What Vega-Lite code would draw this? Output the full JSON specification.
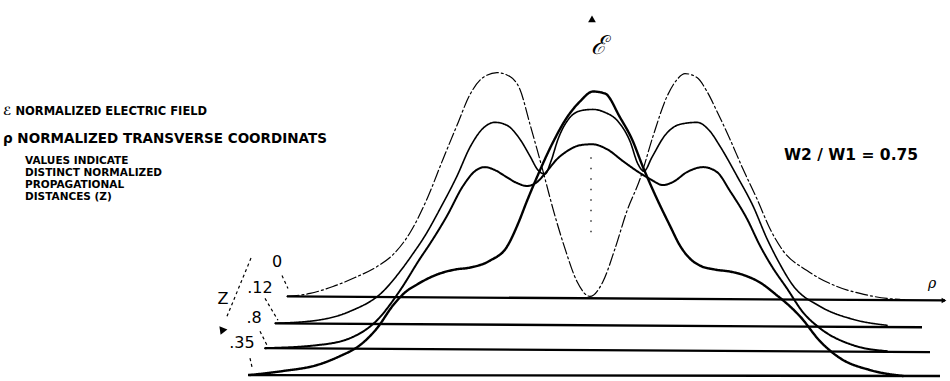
{
  "$schema": "https://vega.github.io/schema/vega-lite/v6.json",
  "width": 950,
  "height": 381,
  "autosize": {"type": "fit", "contains": "padding"},
  "padding": 0,
  "background": "white",
  "config": {"view": {"stroke": null}},
  "datasets": {
    "curves": [
      {"z": "0", "rho": -305, "e": 83}, {"z": "0", "rho": -282, "e": 86}, {"z": "0", "rho": -259, "e": 93},
      {"z": "0", "rho": -237, "e": 102}, {"z": "0", "rho": -215, "e": 113}, {"z": "0", "rho": -199, "e": 125},
      {"z": "0", "rho": -182, "e": 147}, {"z": "0", "rho": -165, "e": 181}, {"z": "0", "rho": -149, "e": 221},
      {"z": "0", "rho": -135, "e": 255}, {"z": "0", "rho": -122, "e": 286}, {"z": "0", "rho": -109, "e": 303},
      {"z": "0", "rho": -95, "e": 308}, {"z": "0", "rho": -82, "e": 304}, {"z": "0", "rho": -72, "e": 291},
      {"z": "0", "rho": -62, "e": 256}, {"z": "0", "rho": -55, "e": 231}, {"z": "0", "rho": -49, "e": 209},
      {"z": "0", "rho": -39, "e": 171}, {"z": "0", "rho": -27, "e": 131}, {"z": "0", "rho": -15, "e": 98},
      {"z": "0", "rho": -2, "e": 83}, {"z": "0", "rho": 11, "e": 98}, {"z": "0", "rho": 23, "e": 131},
      {"z": "0", "rho": 35, "e": 169}, {"z": "0", "rho": 48, "e": 201}, {"z": "0", "rho": 61, "e": 244},
      {"z": "0", "rho": 75, "e": 284}, {"z": "0", "rho": 85, "e": 301}, {"z": "0", "rho": 93, "e": 307},
      {"z": "0", "rho": 105, "e": 303}, {"z": "0", "rho": 115, "e": 289}, {"z": "0", "rho": 125, "e": 269},
      {"z": "0", "rho": 138, "e": 241}, {"z": "0", "rho": 151, "e": 211}, {"z": "0", "rho": 165, "e": 181},
      {"z": "0", "rho": 178, "e": 151}, {"z": "0", "rho": 191, "e": 129}, {"z": "0", "rho": 215, "e": 109},
      {"z": "0", "rho": 245, "e": 93}, {"z": "0", "rho": 268, "e": 86}, {"z": "0", "rho": 295, "e": 81},
      {"z": "0", "rho": 308, "e": 80},

      {"z": ".12", "rho": -317, "e": 56}, {"z": ".12", "rho": -275, "e": 59}, {"z": ".12", "rho": -242, "e": 68},
      {"z": ".12", "rho": -209, "e": 88}, {"z": ".12", "rho": -192, "e": 108}, {"z": ".12", "rho": -179, "e": 126},
      {"z": ".12", "rho": -167, "e": 144}, {"z": ".12", "rho": -152, "e": 171}, {"z": ".12", "rho": -135, "e": 204},
      {"z": ".12", "rho": -122, "e": 233}, {"z": ".12", "rho": -109, "e": 252}, {"z": ".12", "rho": -97, "e": 258},
      {"z": ".12", "rho": -85, "e": 255}, {"z": ".12", "rho": -72, "e": 241}, {"z": ".12", "rho": -62, "e": 224},
      {"z": ".12", "rho": -54, "e": 210}, {"z": ".12", "rho": -47, "e": 206}, {"z": ".12", "rho": -41, "e": 219},
      {"z": ".12", "rho": -34, "e": 241}, {"z": ".12", "rho": -22, "e": 263}, {"z": ".12", "rho": -10, "e": 270},
      {"z": ".12", "rho": 1, "e": 271}, {"z": ".12", "rho": 13, "e": 268}, {"z": ".12", "rho": 26, "e": 259},
      {"z": ".12", "rho": 38, "e": 239}, {"z": ".12", "rho": 46, "e": 216}, {"z": ".12", "rho": 52, "e": 209},
      {"z": ".12", "rho": 60, "e": 223}, {"z": ".12", "rho": 73, "e": 245}, {"z": ".12", "rho": 88, "e": 256},
      {"z": ".12", "rho": 105, "e": 258}, {"z": ".12", "rho": 118, "e": 249}, {"z": ".12", "rho": 128, "e": 234},
      {"z": ".12", "rho": 145, "e": 204}, {"z": ".12", "rho": 161, "e": 174}, {"z": ".12", "rho": 175, "e": 141},
      {"z": ".12", "rho": 186, "e": 119}, {"z": ".12", "rho": 201, "e": 94}, {"z": ".12", "rho": 228, "e": 73},
      {"z": ".12", "rho": 261, "e": 60}, {"z": ".12", "rho": 295, "e": 54},

      {"z": ".8", "rho": -327, "e": 31}, {"z": ".8", "rho": -275, "e": 34}, {"z": ".8", "rho": -242, "e": 41},
      {"z": ".8", "rho": -215, "e": 59}, {"z": ".8", "rho": -192, "e": 89}, {"z": ".8", "rho": -172, "e": 121},
      {"z": ".8", "rho": -162, "e": 136}, {"z": ".8", "rho": -145, "e": 164}, {"z": ".8", "rho": -129, "e": 194},
      {"z": ".8", "rho": -117, "e": 209}, {"z": ".8", "rho": -107, "e": 213}, {"z": ".8", "rho": -97, "e": 210},
      {"z": ".8", "rho": -87, "e": 204}, {"z": ".8", "rho": -75, "e": 197}, {"z": ".8", "rho": -65, "e": 194},
      {"z": ".8", "rho": -55, "e": 198}, {"z": ".8", "rho": -45, "e": 209}, {"z": ".8", "rho": -35, "e": 221},
      {"z": ".8", "rho": -25, "e": 229}, {"z": ".8", "rho": -12, "e": 235}, {"z": ".8", "rho": 0, "e": 236},
      {"z": ".8", "rho": 15, "e": 231}, {"z": ".8", "rho": 31, "e": 219}, {"z": ".8", "rho": 45, "e": 209},
      {"z": ".8", "rho": 58, "e": 201}, {"z": ".8", "rho": 71, "e": 195}, {"z": ".8", "rho": 81, "e": 198},
      {"z": ".8", "rho": 95, "e": 208}, {"z": ".8", "rho": 111, "e": 213}, {"z": ".8", "rho": 125, "e": 208},
      {"z": ".8", "rho": 138, "e": 189}, {"z": ".8", "rho": 155, "e": 161}, {"z": ".8", "rho": 168, "e": 134},
      {"z": ".8", "rho": 180, "e": 113}, {"z": ".8", "rho": 195, "e": 91}, {"z": ".8", "rho": 211, "e": 67},
      {"z": ".8", "rho": 228, "e": 51}, {"z": ".8", "rho": 261, "e": 34}, {"z": ".8", "rho": 295, "e": 28},

      {"z": ".35", "rho": -342, "e": 4}, {"z": ".35", "rho": -309, "e": 8}, {"z": ".35", "rho": -275, "e": 14},
      {"z": ".35", "rho": -252, "e": 23}, {"z": ".35", "rho": -232, "e": 34}, {"z": ".35", "rho": -215, "e": 51},
      {"z": ".35", "rho": -199, "e": 74}, {"z": ".35", "rho": -187, "e": 87}, {"z": ".35", "rho": -175, "e": 95},
      {"z": ".35", "rho": -155, "e": 105}, {"z": ".35", "rho": -137, "e": 110}, {"z": ".35", "rho": -122, "e": 112},
      {"z": ".35", "rho": -102, "e": 119}, {"z": ".35", "rho": -85, "e": 133}, {"z": ".35", "rho": -74, "e": 156},
      {"z": ".35", "rho": -65, "e": 179}, {"z": ".35", "rho": -55, "e": 203}, {"z": ".35", "rho": -39, "e": 238},
      {"z": ".35", "rho": -25, "e": 263}, {"z": ".35", "rho": -12, "e": 279}, {"z": ".35", "rho": 1, "e": 289},
      {"z": ".35", "rho": 13, "e": 287}, {"z": ".35", "rho": 28, "e": 263}, {"z": ".35", "rho": 40, "e": 241},
      {"z": ".35", "rho": 51, "e": 213}, {"z": ".35", "rho": 65, "e": 181}, {"z": ".35", "rho": 78, "e": 154},
      {"z": ".35", "rho": 88, "e": 134}, {"z": ".35", "rho": 98, "e": 121}, {"z": ".35", "rho": 108, "e": 114},
      {"z": ".35", "rho": 123, "e": 110}, {"z": ".35", "rho": 138, "e": 108}, {"z": ".35", "rho": 153, "e": 104},
      {"z": ".35", "rho": 168, "e": 97}, {"z": ".35", "rho": 185, "e": 84}, {"z": ".35", "rho": 198, "e": 73},
      {"z": ".35", "rho": 208, "e": 63}, {"z": ".35", "rho": 228, "e": 38}, {"z": ".35", "rho": 248, "e": 21},
      {"z": ".35", "rho": 278, "e": 9}, {"z": ".35", "rho": 311, "e": 3}
    ],
    "baselines": [
      {"z": "0", "rho": -305, "e": 83}, {"z": "0", "rho": 353, "e": 79},
      {"z": ".12", "rho": -317, "e": 56}, {"z": ".12", "rho": 330, "e": 52},
      {"z": ".8", "rho": -327, "e": 31}, {"z": ".8", "rho": 338, "e": 27},
      {"z": ".35", "rho": -344, "e": 4}, {"z": ".35", "rho": 348, "e": 3}
    ],
    "leaders": [
      {"k": "zaxis", "rho": -340, "e": 124}, {"k": "zaxis", "rho": -365, "e": 63},
      {"k": "l0", "rho": -310, "e": 104}, {"k": "l0", "rho": -304, "e": 91},
      {"k": "l12", "rho": -327, "e": 81}, {"k": "l12", "rho": -314, "e": 59},
      {"k": "l8", "rho": -332, "e": 48}, {"k": "l8", "rho": -325, "e": 34},
      {"k": "l35", "rho": -342, "e": 21}, {"k": "l35", "rho": -340, "e": 12}
    ],
    "zlabels": [
      {"t": "0", "rho": -315, "e": 118},
      {"t": ".12", "rho": -332, "e": 91},
      {"t": ".8", "rho": -338, "e": 61},
      {"t": ".35", "rho": -350, "e": 36},
      {"t": "Z", "rho": -369, "e": 80}
    ],
    "notes": [
      {"t": "VALUES INDICATE", "rho": -567, "e": 219},
      {"t": "DISTINCT NORMALIZED", "rho": -567, "e": 207},
      {"t": "PROPAGATIONAL", "rho": -567, "e": 195},
      {"t": "DISTANCES (Z)", "rho": -567, "e": 183}
    ]
  },
  "encoding": {
    "x": {"field": "rho", "type": "quantitative", "scale": {"domain": [-592, 358], "nice": false, "zero": false}, "axis": null},
    "y": {"field": "e", "type": "quantitative", "scale": {"domain": [0, 381], "nice": false, "zero": false}, "axis": null}
  },
  "layer": [
    {
      "data": {"name": "baselines"},
      "mark": {"type": "line", "color": "black", "strokeWidth": 2.3},
      "encoding": {"detail": {"field": "z"}}
    },
    {
      "data": {"name": "curves"},
      "mark": {"type": "line", "color": "black", "interpolate": "monotone", "strokeCap": "round"},
      "encoding": {
        "detail": {"field": "z"},
        "strokeWidth": {"field": "z", "type": "nominal", "scale": {"domain": ["0", ".12", ".8", ".35"], "range": [1.2, 2.4, 2.6, 3.3]}, "legend": null},
        "strokeDash": {"field": "z", "type": "nominal", "scale": {"domain": ["0", ".12", ".8", ".35"], "range": [[12, 3, 2, 3], [1, 0], [1, 0], [1, 0]]}, "legend": null}
      }
    },
    {
      "data": {"name": "leaders"},
      "mark": {"type": "line", "color": "black", "strokeWidth": 1.2, "strokeDash": [3, 3]},
      "encoding": {"detail": {"field": "k"}}
    },
    {
      "data": {"values": [{"k": "eaxis", "rho": -1, "e": 223}, {"k": "eaxis", "rho": -1, "e": 144}]},
      "mark": {"type": "line", "color": "black", "strokeWidth": 1.2, "strokeDash": [1.5, 9]},
      "encoding": {"detail": {"field": "k"}}
    },
    {
      "data": {"values": [
        {"k": "e-arrow", "rho": 0, "e": 362, "a": 0, "s": 60},
        {"k": "z-arrow", "rho": -370, "e": 48, "a": 202, "s": 75},
        {"k": "rho-arrow", "rho": 352, "e": 79, "a": 90, "s": 30}
      ]},
      "mark": {"type": "point", "shape": "triangle-up", "filled": true, "color": "black", "opacity": 1},
      "encoding": {
        "angle": {"field": "a", "type": "quantitative", "scale": null},
        "size": {"field": "s", "type": "quantitative", "scale": null, "legend": null}
      }
    },
    {
      "data": {"name": "zlabels"},
      "mark": {"type": "text", "font": "DejaVu Sans", "fontSize": 16, "align": "center", "baseline": "middle", "color": "black"},
      "encoding": {"text": {"field": "t"}}
    },
    {
      "data": {"values": [
        {"t": "ℰ", "rho": 7, "e": 335, "s": 26},
        {"t": "ρ", "rho": 340, "e": 96, "s": 14}
      ]},
      "mark": {"type": "text", "font": "DejaVu Serif", "fontStyle": "italic", "align": "center", "baseline": "middle", "color": "black"},
      "encoding": {
        "text": {"field": "t"},
        "size": {"field": "s", "type": "quantitative", "scale": null, "legend": null}
      }
    },
    {
      "data": {"values": [
        {"t": "ℰ NORMALIZED ELECTRIC FIELD", "rho": -589, "e": 268, "s": 11.5},
        {"t": "ρ NORMALIZED TRANSVERSE COORDINATS", "rho": -589, "e": 241, "s": 13.5}
      ]},
      "mark": {"type": "text", "font": "DejaVu Sans", "fontWeight": "bold", "align": "left", "baseline": "middle", "color": "black"},
      "encoding": {
        "text": {"field": "t"},
        "size": {"field": "s", "type": "quantitative", "scale": null, "legend": null}
      }
    },
    {
      "data": {"name": "notes"},
      "mark": {"type": "text", "font": "DejaVu Sans", "fontWeight": "bold", "fontSize": 10.5, "align": "left", "baseline": "middle", "color": "black"},
      "encoding": {"text": {"field": "t"}}
    },
    {
      "data": {"values": [{"t": "W2 / W1 = 0.75", "rho": 259, "e": 225}]},
      "mark": {"type": "text", "font": "DejaVu Sans", "fontWeight": "bold", "fontSize": 15.5, "align": "center", "baseline": "middle", "color": "black"},
      "encoding": {"text": {"field": "t"}}
    }
  ]
}
